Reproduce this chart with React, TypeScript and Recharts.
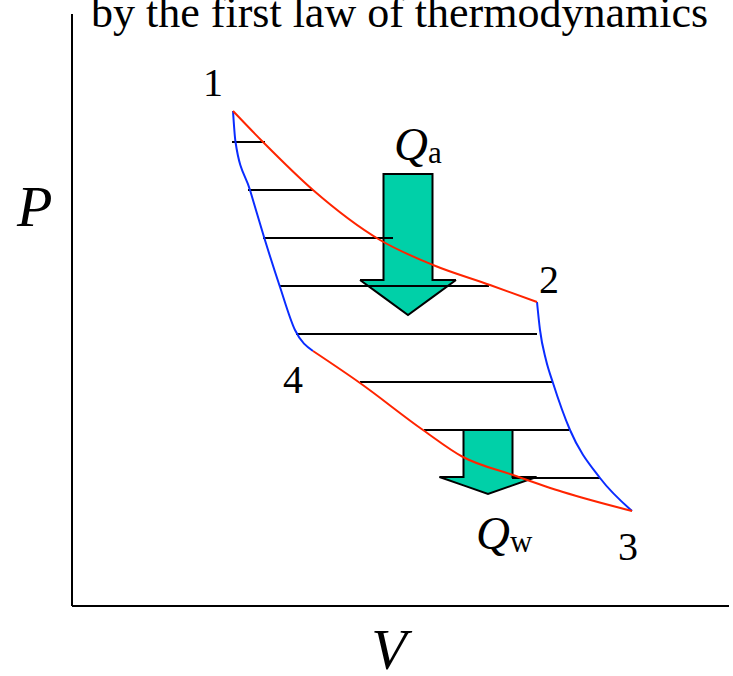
import { Area, ComposedChart, Line, ReferenceLine, Scatter, XAxis, YAxis } from "recharts"

// Carnot cycle on a P-V diagram (arbitrary units)
const hotIsotherm = [
  { v: 3.22, p: 9.9 },
  { v: 3.82, p: 9.28 },
  { v: 4.82, p: 8.32 },
  { v: 6.16, p: 7.32 },
  { v: 7.22, p: 6.82 },
  { v: 8.36, p: 6.42 },
  { v: 9.3, p: 6.08 },
]

const expansionAdiabat = [
  { v: 9.3, p: 6.08 },
  { v: 9.36, p: 5.52 },
  { v: 9.48, p: 4.92 },
  { v: 9.62, p: 4.46 },
  { v: 9.96, p: 3.52 },
  { v: 10.56, p: 2.56 },
  { v: 11.2, p: 1.9 },
]

const coldIsotherm = [
  { v: 4.82, p: 5.1 },
  { v: 5.76, p: 4.46 },
  { v: 7.02, p: 3.52 },
  { v: 7.82, p: 2.98 },
  { v: 8.82, p: 2.62 },
  { v: 9.82, p: 2.28 },
  { v: 11.2, p: 1.9 },
]

const compressionAdiabat = [
  { v: 3.22, p: 9.9 },
  { v: 3.27, p: 9.28 },
  { v: 3.56, p: 8.32 },
  { v: 3.84, p: 7.38 },
  { v: 4.16, p: 6.38 },
  { v: 4.46, p: 5.52 },
  { v: 4.82, p: 5.1 },
]

// hatching inside the cycle
const hatchP = [9.28, 8.32, 7.36, 6.4, 5.44, 4.48, 3.52, 2.56]
const hatchFrom = [3.2, 3.52, 3.82, 4.16, 4.48, 5.76, 7.04, 8.8]
const hatchTo = [3.86, 4.82, 6.42, 8.34, 9.3, 9.62, 9.94, 10.56]

// heat arrows: centre V, top / neck / tip P, half widths in V
const heatArrows = [
  { name: "Qa", v: 6.72, top: 8.64, neck: 6.52, tip: 5.82, shaftHalf: 0.49, headHalf: 0.96 },
  { name: "Qw", v: 8.32, top: 3.52, neck: 2.58, tip: 2.24, shaftHalf: 0.49, headHalf: 0.97 },
]

const stateLabels = [
  { v: 2.82, p: 10.2, text: "1" },
  { v: 9.54, p: 6.26, text: "2" },
  { v: 11.12, p: 0.92, text: "3" },
  { v: 4.42, p: 4.26, text: "4" },
]

const heatLabels = [
  { v: 6.44, p: 8.92, sub: "a" },
  { v: 8.08, p: 1.14, sub: "w" },
]

const serif = "'Liberation Serif', 'Times New Roman', serif"
const RED = "#ff2400"
const BLUE = "#0a2cff"
const GREEN = "#00d0a8"

type Arrow = (typeof heatArrows)[number]

function arrowOutline(a: Arrow) {
  const slope = (a.neck - a.tip) / a.headHalf
  const edge = a.neck - slope * (a.headHalf - a.shaftHalf)
  return [
    { v: a.v - a.headHalf, range: [a.neck, a.neck] },
    { v: a.v - a.shaftHalf, range: [edge, a.neck] },
    { v: a.v - a.shaftHalf, range: [edge, a.top] },
    { v: a.v, range: [a.tip, a.top] },
    { v: a.v + a.shaftHalf, range: [edge, a.top] },
    { v: a.v + a.shaftHalf, range: [edge, a.neck] },
    { v: a.v + a.headHalf, range: [a.neck, a.neck] },
  ]
}

const StateLabel = (props: any) => (
  <text x={props.cx} y={props.cy} textAnchor="middle" fontFamily={serif} fontSize={40} fill="#000">
    {props.payload.text}
  </text>
)

const HeatLabel = (props: any) => (
  <text x={props.cx} y={props.cy} fontFamily={serif} fill="#000">
    <tspan fontSize={47} fontStyle="italic">Q</tspan>
    <tspan fontSize={31} dy={3}>{props.payload.sub}</tspan>
  </text>
)

export default function App() {
  return (
    <div style={{ position: "absolute", left: 0, top: 0, width: 733, height: 676, background: "#fff" }}>
      <ComposedChart width={733} height={676} margin={{ top: 14, right: 4, bottom: 70, left: 72 }}>
        <XAxis type="number" dataKey="v" domain={[0, 13.14]} allowDataOverflow height={0} hide />
        <YAxis type="number" dataKey="p" domain={[0, 11.84]} allowDataOverflow width={0} hide />
        <ReferenceLine x={0} stroke="#000" strokeWidth={2} />
        <ReferenceLine y={0} stroke="#000" strokeWidth={2} />
        {heatArrows.map((a) => (
          <Area
            key={a.name}
            data={arrowOutline(a)}
            dataKey="range"
            type="linear"
            fill={GREEN}
            fillOpacity={1}
            stroke="#000"
            strokeWidth={2}
            dot={false}
            activeDot={false}
            isAnimationActive={false}
          />
        ))}
        {hatchP.map((p, i) => (
          <Line
            key={"h" + i}
            data={[
              { v: hatchFrom[i], p },
              { v: hatchTo[i], p },
            ]}
            dataKey="p"
            type="linear"
            stroke="#000"
            strokeWidth={2}
            dot={false}
            activeDot={false}
            isAnimationActive={false}
          />
        ))}
        <Line data={compressionAdiabat} dataKey="p" type="monotone" stroke={BLUE} strokeWidth={2} dot={false} isAnimationActive={false} />
        <Line data={expansionAdiabat} dataKey="p" type="monotone" stroke={BLUE} strokeWidth={2} dot={false} isAnimationActive={false} />
        <Line data={hotIsotherm} dataKey="p" type="monotone" stroke={RED} strokeWidth={2} dot={false} isAnimationActive={false} />
        <Line data={coldIsotherm} dataKey="p" type="monotone" stroke={RED} strokeWidth={2} dot={false} isAnimationActive={false} />
        <Scatter data={stateLabels} dataKey="p" shape={StateLabel} isAnimationActive={false} />
        <Scatter data={heatLabels} dataKey="p" shape={HeatLabel} isAnimationActive={false} />
      </ComposedChart>
      <svg width={733} height={676} style={{ position: "absolute", left: 0, top: 0, pointerEvents: "none" }}>
        <text x={91} y={27} fontFamily={serif} fontSize={44} fill="#000">
          by the first law of thermodynamics
        </text>
        <text x={17} y={226} fontFamily={serif} fontSize={58} fontStyle="italic" fill="#000">
          P
        </text>
        <text x={389} y={669} textAnchor="middle" fontFamily={serif} fontSize={58} fontStyle="italic" fill="#000">
          V
        </text>
      </svg>
    </div>
  )
}
